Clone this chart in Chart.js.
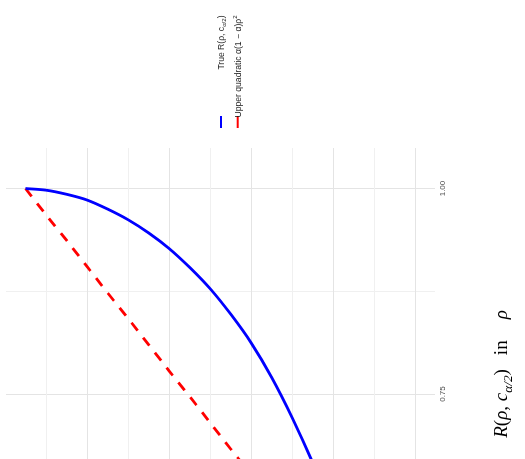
<!DOCTYPE html>
<html>
<head>
<meta charset="utf-8">
<script src="https://cdn.jsdelivr.net/npm/chart.js@4.4.0/dist/chart.umd.min.js"></script>
<style>
  html, body { margin: 0; padding: 0; background: #fff; }
  body { width: 525px; height: 459px; overflow: hidden; position: relative; }
  /* the plot is drawn upright and then turned a quarter turn to the left */
  #plot { position: absolute; left: 0; top: 0; transform-origin: 0 0; transform: translate(0px, 620px) rotate(-90deg); }
</style>
</head>
<body>
<canvas id="plot" width="620" height="525"></canvas>
<script>
// values
var rho = [0.05, 0.10, 0.15, 0.20, 0.25, 0.30, 0.35, 0.40, 0.45, 0.50, 0.55, 0.60, 0.65, 0.70, 0.75, 0.80];
var trueR = [1.000, 0.998, 0.993, 0.986, 0.975, 0.962, 0.946, 0.927, 0.904, 0.878, 0.847, 0.812, 0.770, 0.721, 0.666, 0.605];
var upperR = [1.000, 0.968, 0.937, 0.905, 0.873, 0.842, 0.810, 0.778, 0.747, 0.715, 0.683, 0.652, 0.620, 0.588, 0.557, 0.525];

var rTicks = [0.5, 0.625, 0.75, 0.875, 1.0];
var rTickLabels = ['0.50', '', '0.75', '', '1.00'];
var rhoTicks = [0.1, 0.2, 0.3, 0.4, 0.5, 0.6, 0.7, 0.8, 0.9, 1.0];

var seriesColors = ['#0000ff', '#ff0000'];
var legendParts = [
  [{t: 'True R(ρ, c'}, {t: 'α/2', sub: true}, {t: ')'}],
  [{t: 'Upper quadratic α(1 − α)ρ'}, {t: '2', sup: true}]
];
var titleParts = [
  {t: 'R', it: true}, {t: '('}, {t: 'ρ', it: true}, {t: ', '}, {t: 'c', it: true},
  {t: 'α/2', it: true, sub: true}, {t: ')'}, {t: 'in', gap: 14}, {t: 'ρ', it: true, gap: 21}
];

function toPoints(vals) {
  return rho.map(function (r, i) { return {x: vals[i], y: r}; });
}

function drawRich(ctx, parts, x, y, size, family, align) {
  var segs = parts.map(function (p) {
    var s = (p.sub || p.sup) ? size * 0.7 : size;
    var font = (p.it ? 'italic ' : '') + s + 'px ' + family;
    ctx.font = font;
    return {p: p, font: font, w: ctx.measureText(p.t).width, gap: p.gap || 0};
  });
  var total = 0;
  segs.forEach(function (s) { total += s.w + s.gap; });
  var cx = align === 'right' ? x - total : (align === 'center' ? x - total / 2 : x);
  ctx.textAlign = 'left';
  ctx.textBaseline = 'alphabetic';
  segs.forEach(function (s) {
    cx += s.gap;
    ctx.font = s.font;
    var dy = s.p.sub ? size * 0.25 : (s.p.sup ? -size * 0.4 : 0);
    ctx.fillText(s.p.t, cx, y + dy);
    cx += s.w;
  });
}

var annotate = {
  id: 'annotate',
  afterDraw: function (chart) {
    var ctx = chart.ctx;
    var area = chart.chartArea;
    ctx.save();
    ctx.fillStyle = '#000';
    drawRich(ctx, titleParts, (area.left + area.right) / 2, 507, 19, '"Liberation Serif", serif', 'center');
    chart.data.datasets.forEach(function (ds, i) {
      var y = 221 + i * 16.7;
      ctx.strokeStyle = ds.borderColor;
      ctx.lineWidth = 2;
      ctx.setLineDash([]);
      ctx.beginPath();
      ctx.moveTo(area.right + 20, y);
      ctx.lineTo(area.right + 32, y);
      ctx.stroke();
      ctx.fillStyle = '#1a1a1a';
      drawRich(ctx, legendParts[i], chart.width - 15.5, y + 3, 8.6, '"Liberation Sans", sans-serif', 'right');
    });
    ctx.restore();
  }
};

var ctx = document.getElementById('plot').getContext('2d');
var myChart = new Chart(ctx, {
  type: 'scatter',
  data: {
    datasets: [{
      label: 'True',
      data: toPoints(trueR),
      showLine: true,
      borderColor: seriesColors[0],
      borderWidth: 2.8,
      pointRadius: 0,
      tension: 0.3,
      fill: false
    }, {
      label: 'Upper',
      data: toPoints(upperR),
      showLine: true,
      borderColor: seriesColors[1],
      borderWidth: 2.8,
      borderDash: [10, 9],
      pointRadius: 0,
      tension: 0,
      fill: false
    }]
  },
  options: {
    responsive: false,
    animation: false,
    devicePixelRatio: 1,
    layout: { padding: { top: 6, right: 148, bottom: 0, left: 0 } },
    plugins: { legend: { display: false }, tooltip: { enabled: false } },
    scales: {
      x: {
        type: 'linear',
        position: 'bottom',
        min: 0.4994,
        max: 1.0493,
        afterBuildTicks: function (axis) {
          axis.ticks = rTicks.map(function (v) { return {value: v}; });
        },
        afterFit: function (axis) { axis.height = 90; },
        border: { display: false },
        grid: {
          drawTicks: false,
          lineWidth: 1,
          color: function (c) {
            var v = c.tick ? c.tick.value : 0;
            return (v * 4) % 1 === 0 ? '#e4e4e4' : '#f0f0f0';
          }
        },
        ticks: {
          autoSkip: false,
          maxRotation: 0,
          padding: 3,
          color: '#4d4d4d',
          font: { family: '"Liberation Sans", sans-serif', size: 8 },
          callback: function (value, i) { return rTickLabels[i]; }
        }
      },
      y: {
        type: 'linear',
        position: 'left',
        reverse: true,
        min: 0.0025,
        max: 1.0475,
        afterBuildTicks: function (axis) {
          axis.ticks = rhoTicks.map(function (v) { return {value: v}; });
        },
        afterFit: function (axis) { axis.width = 20; },
        border: { display: false },
        grid: {
          drawTicks: false,
          lineWidth: 1,
          color: function (c) {
            var v = c.tick ? c.tick.value : 0;
            return Math.round(v * 10) % 2 === 0 ? '#e4e4e4' : '#f0f0f0';
          }
        },
        ticks: { display: false }
      }
    }
  },
  plugins: [annotate]
});
</script>
</body>
</html>
